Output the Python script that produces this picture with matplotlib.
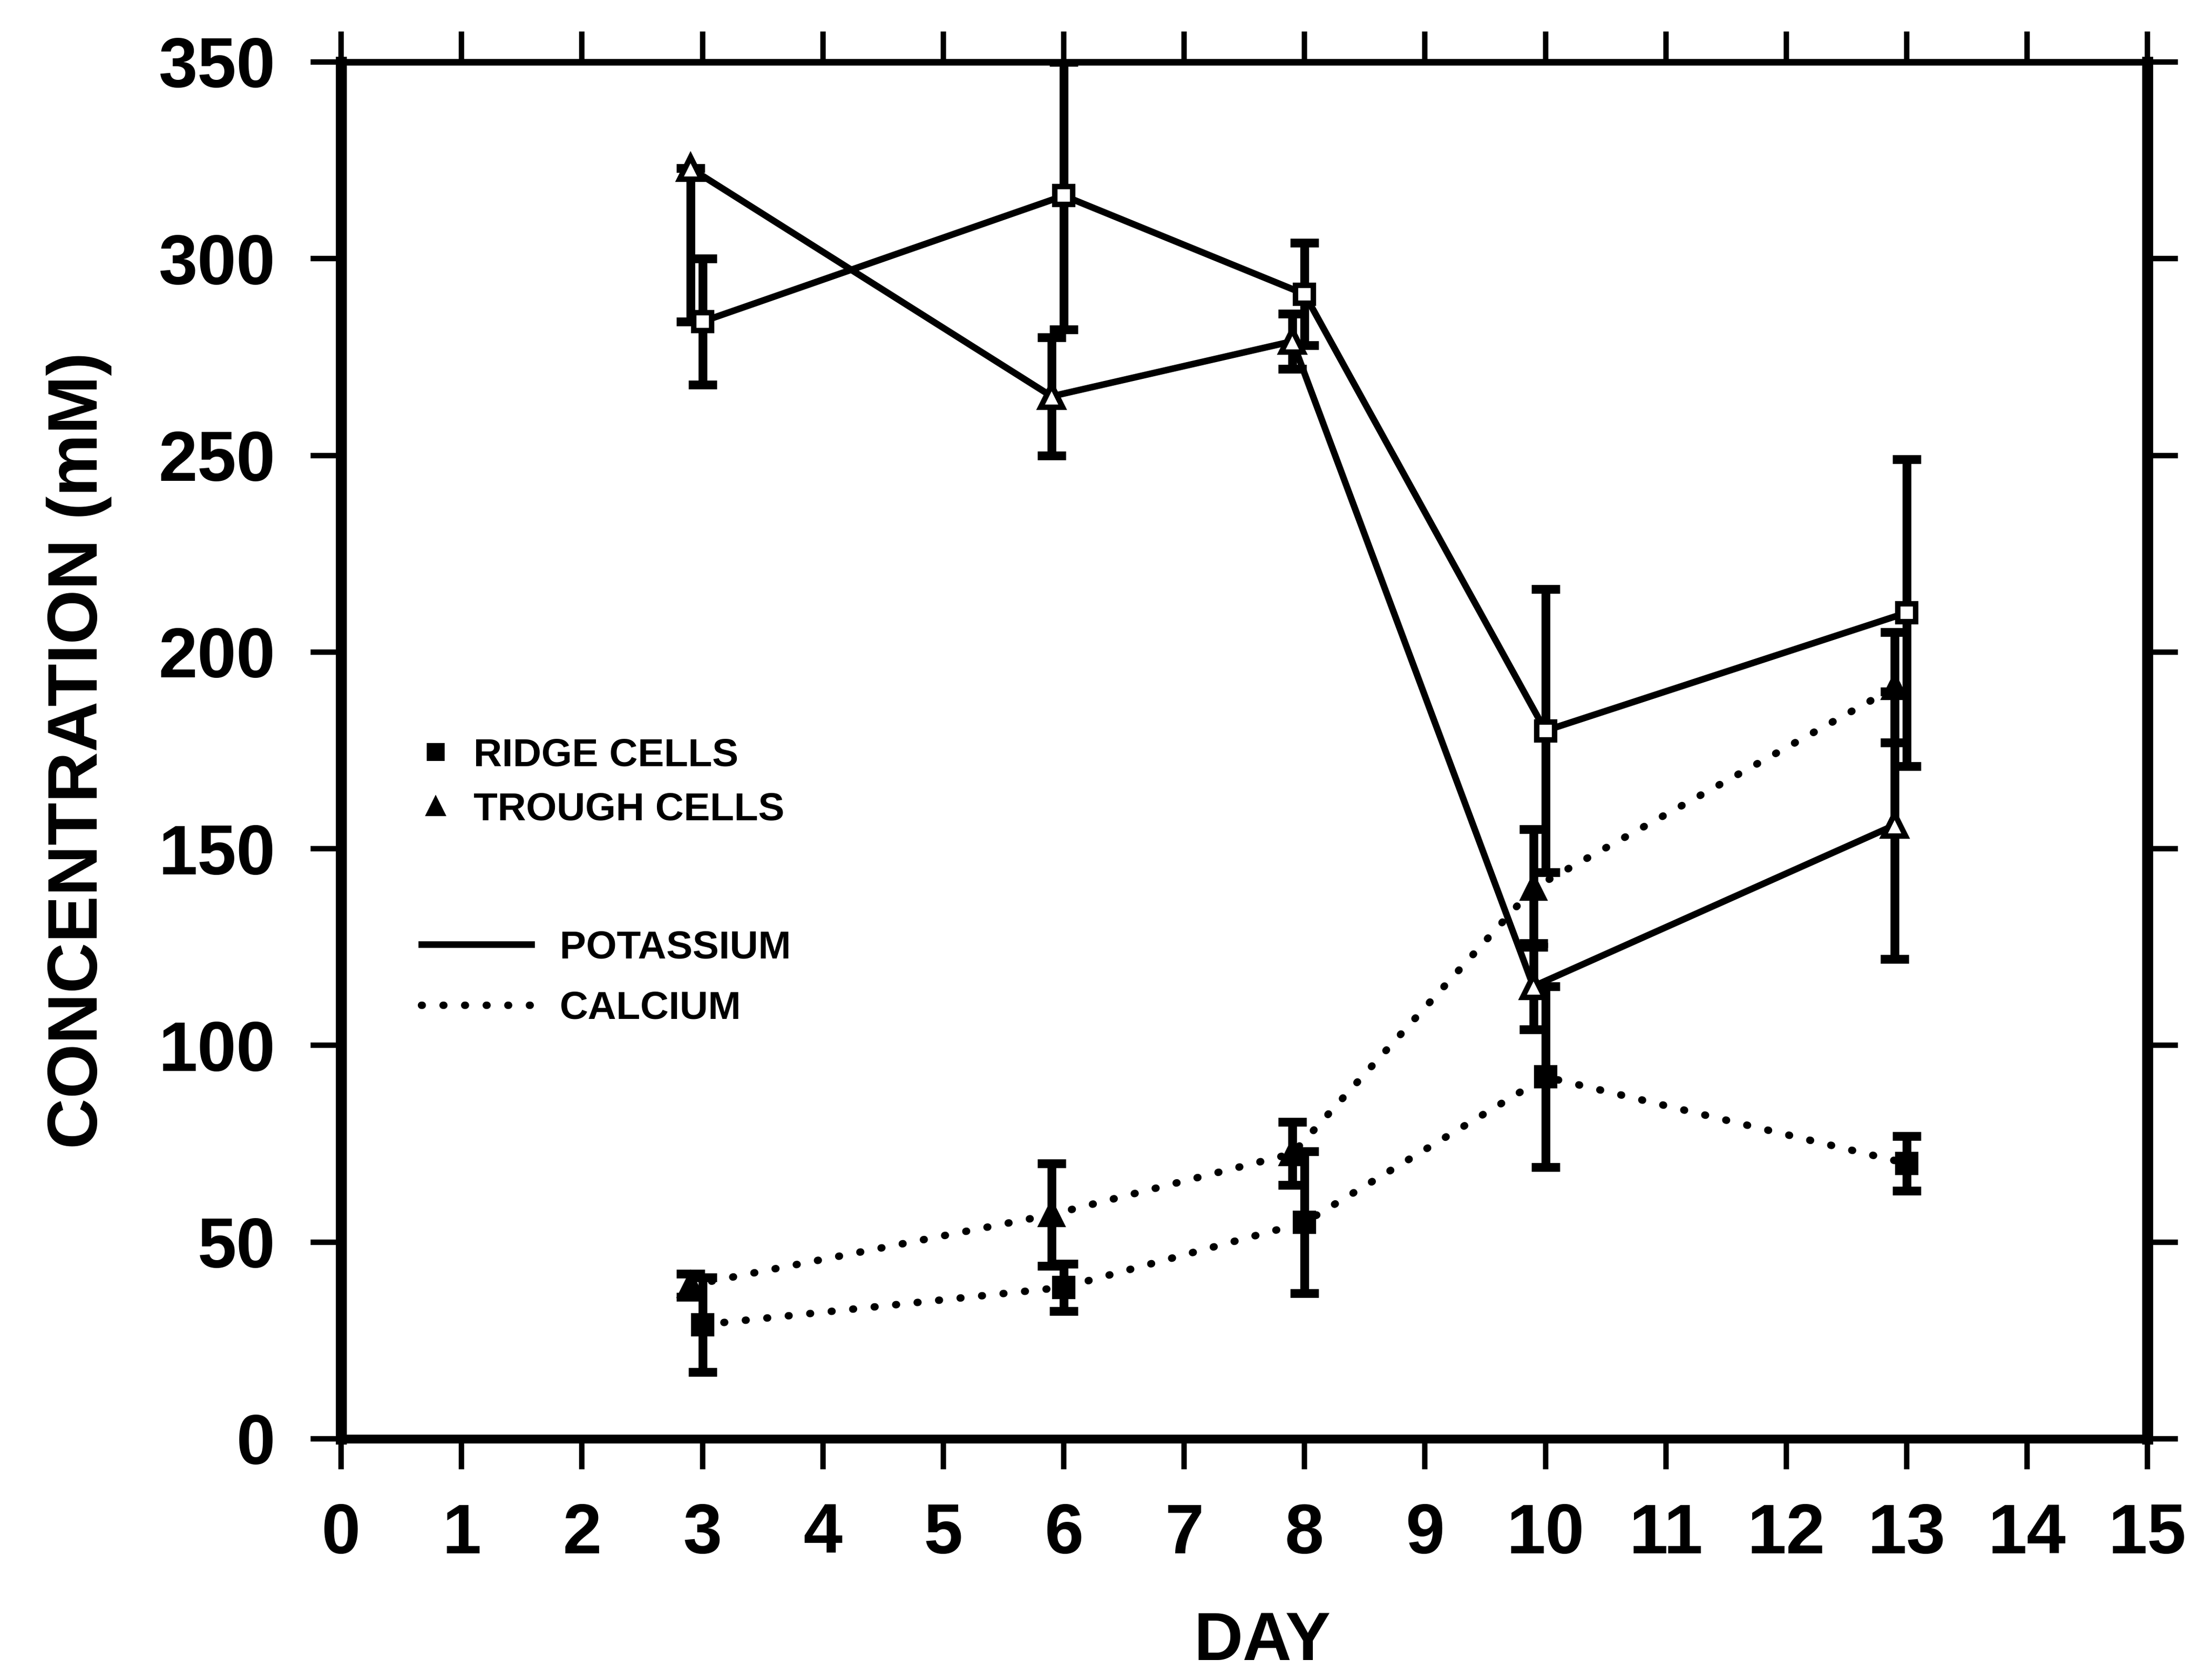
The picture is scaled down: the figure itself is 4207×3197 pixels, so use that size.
import numpy as np
import matplotlib
matplotlib.use("Agg")
import matplotlib.pyplot as plt
from matplotlib.lines import Line2D

plt.rcParams['font.family'] = ['Liberation Sans', 'DejaVu Sans']
plt.rcParams['font.weight'] = 'bold'
plt.rcParams['axes.labelweight'] = 'bold'

# sampling days; trough cells sit a tenth of a day left of the ridge cells
ridge_days = [3, 6, 8, 10, 13]
trough_days = [2.9, 5.9, 7.9, 9.9, 12.9]

# potassium, mM
k_ridge = [284, 316, 291, 180, 210]
k_ridge_err = [16, 34, 13, 36, 39]
k_trough = [323, 265, 279, 115, 156]
k_trough_lo = [39, 15, 7, 11, 34]
k_trough_hi = [0, 15, 7, 11, 34]

# calcium, mM
ca_ridge = [29, 38.5, 55, 92, 70]
ca_ridge_err = [12, 6, 18, 23, 7]
ca_trough = [39, 57, 72.5, 140, 191]
ca_trough_err = [3, 13, 8, 15, 14]

day_ticks = np.arange(0, 16)
conc_ticks = np.arange(0, 351, 50)

DOTS = (0, (0.1, 2.8))
K_LW = 3.0
CA_LW = 3.4

fig = plt.figure(figsize=(4207 / 300, 3197 / 300), dpi=300)
ax = fig.add_axes([0.1543, 0.1436, 0.9713 - 0.1543, 0.9631 - 0.1436])


def series(x, y, err, marker, face, ls, lw, ms):
    ax.errorbar(x, y, yerr=err, fmt='none', ecolor='black', elinewidth=4,
                capsize=6.5, capthick=4, zorder=2)
    ax.plot(x, y, color='black', lw=lw, ls=ls, dash_capstyle='round',
            marker=marker, ms=ms, mfc=face, mec='black', mew=2.5, zorder=3)


series(ridge_days, k_ridge, k_ridge_err, 's', 'white', '-', K_LW, 8)
series(trough_days, k_trough, [k_trough_lo, k_trough_hi], '^', 'white', '-', K_LW, 10)
series(ridge_days, ca_ridge, ca_ridge_err, 's', 'black', DOTS, CA_LW, 8)
series(trough_days, ca_trough, ca_trough_err, '^', 'black', DOTS, CA_LW, 9)

ax.set_xlim(0, 15)
ax.set_ylim(0, 350)
ax.set_xticks(day_ticks)
ax.set_yticks(conc_ticks)

for side, lw in [('left', 5), ('right', 5), ('bottom', 4), ('top', 3)]:
    ax.spines[side].set_linewidth(lw)

ax.tick_params(axis='both', direction='out', width=2.5, length=14,
               labelsize=32, top=True, right=True)
ax.tick_params(axis='x', pad=15)
ax.tick_params(axis='y', pad=16)

ax.set_xlabel('DAY', fontsize=31)
ax.xaxis.label.set_va('center')
ax.xaxis.set_label_coords(0.51, -0.148)
ax.set_ylabel('CONCENTRATION (mM)', fontsize=32)
ax.yaxis.label.set_va('center')
ax.yaxis.set_label_coords(-0.145, 0.5)

# cell type key (markers) and ion key (line styles)
cell_handles = [Line2D([], [], ls='none', marker='s', color='black', ms=7),
                Line2D([], [], ls='none', marker='^', color='black', ms=8)]
cell_key = ax.legend(cell_handles, ['RIDGE CELLS', 'TROUGH CELLS'],
                     loc='center left', bbox_to_anchor=(0.0415, 0.4765),
                     frameon=False, fontsize=18, handlelength=1.0,
                     handletextpad=0.45, labelspacing=0.45,
                     borderpad=0, borderaxespad=0)
ax.add_artist(cell_key)

ion_handles = [Line2D([], [], color='black', lw=K_LW),
               Line2D([], [], color='black', lw=CA_LW, ls=DOTS,
                      dash_capstyle='round')]
ax.legend(ion_handles, ['POTASSIUM', 'CALCIUM'],
          loc='center left', bbox_to_anchor=(0.0445, 0.3345),
          frameon=False, fontsize=18, handlelength=2.79,
          handletextpad=0.72, labelspacing=0.62,
          borderpad=0, borderaxespad=0)

fig.savefig('out.png', dpi=300)
